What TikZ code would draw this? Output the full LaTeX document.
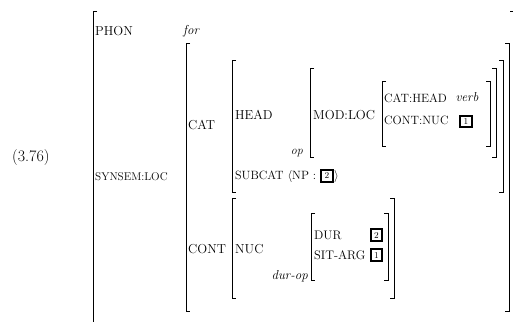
\documentclass[tikz,border=0pt]{standalone}
\usepackage{fontspec}
\begin{document}
\begin{tikzpicture}[x=1pt,y=-1pt,
  lbl/.style={anchor=west,inner sep=0pt,font=\fontsize{13}{15}\selectfont},
  lbld/.style={anchor=west,inner sep=0pt,font=\fontsize{12.4}{14}\selectfont},
  lblm/.style={anchor=west,inner sep=0pt,font=\fontsize{12}{14}\selectfont},
  lbls/.style={anchor=west,inner sep=0pt,font=\fontsize{11.2}{13}\selectfont},
  itl/.style={inner sep=0pt,font=\fontsize{13}{15}\selectfont\itshape},
  tagbox/.style={draw,line width=1.6pt,inner sep=0pt,minimum size=11.5pt,font=\fontsize{9}{10}\selectfont},
  brk/.style={line width=0.8pt}]
\useasboundingbox (0,0) rectangle (513,321);
\newcommand\lbr[3]{\draw[brk] (#1+4,#2) -- (#1,#2) -- (#1,#3) -- (#1+4,#3);}
\newcommand\rbr[3]{\draw[brk] (#1-4,#2) -- (#1,#2) -- (#1,#3) -- (#1-4,#3);}
% outer
\lbr{93}{11}{330}\rbr{514}{11}{330}
% SYNSEM:LOC value
\lbr{186}{43}{311}\rbr{509}{43}{311}
% CAT value
\lbr{232}{60}{192}\rbr{503}{60}{192}
% MOD:LOC value
\lbr{310}{68}{157}\rbr{496}{68}{157}
% inner
\lbr{382}{81}{146}\rbr{490}{81}{146}
% NUC value
\lbr{232}{198}{298}\rbr{394}{198}{298}
% DUR value
\lbr{311}{213}{280}\rbr{388}{213}{280}

\node[anchor=west,inner sep=0pt,font=\fontsize{16}{18}\selectfont] (num) at (12,158) {(3.76)};
\node[lbl] (phon) at (95,31) {PHON};
\node[itl,anchor=west] (for) at (183,31) {for};
\node[lbls] (synsem) at (95,177) {SYNSEM:LOC};
\node[lbl] (cat) at (188,125) {CAT};
\node[lbl] (head) at (235,115) {HEAD};
\node[lbl] (modloc) at (313,115) {MOD:LOC};
\node[itl,anchor=east,font=\fontsize{12}{14}\selectfont\itshape] (op) at (303,153) {op};
\node[lblm] (cathead) at (384,98) {CAT:HEAD};
\node[itl] (verb) at (467,97) {verb};
\node[lblm] (contnuc) at (384,120) {CONT:NUC};
\node[tagbox] (t1a) at (466,121.5) {1};
\node[lblm] (subcat) at (235,176) {SUBCAT $\langle$NP :};
\node[tagbox,anchor=west] (t2a) at ([xshift=4pt]subcat.east) {2};
\node[anchor=west,inner sep=0pt,font=\fontsize{12}{14}\selectfont] (ang) at ([xshift=0.5pt]t2a.east) {$\rangle$};
\node[lbl] (cont) at (188,249) {CONT};
\node[lbl] (nuc) at (235,249) {NUC};
\node[lbld] (dur) at (314,235) {DUR};
\node[tagbox] (t2b) at (376.5,235) {2};
\node[lbld] (sitarg) at (314,255) {SIT-ARG};
\node[tagbox] (t1b) at (376.5,255) {1};
\node[itl,anchor=east] (durop) at (308,276) {dur-op};
\end{tikzpicture}
\end{document}
